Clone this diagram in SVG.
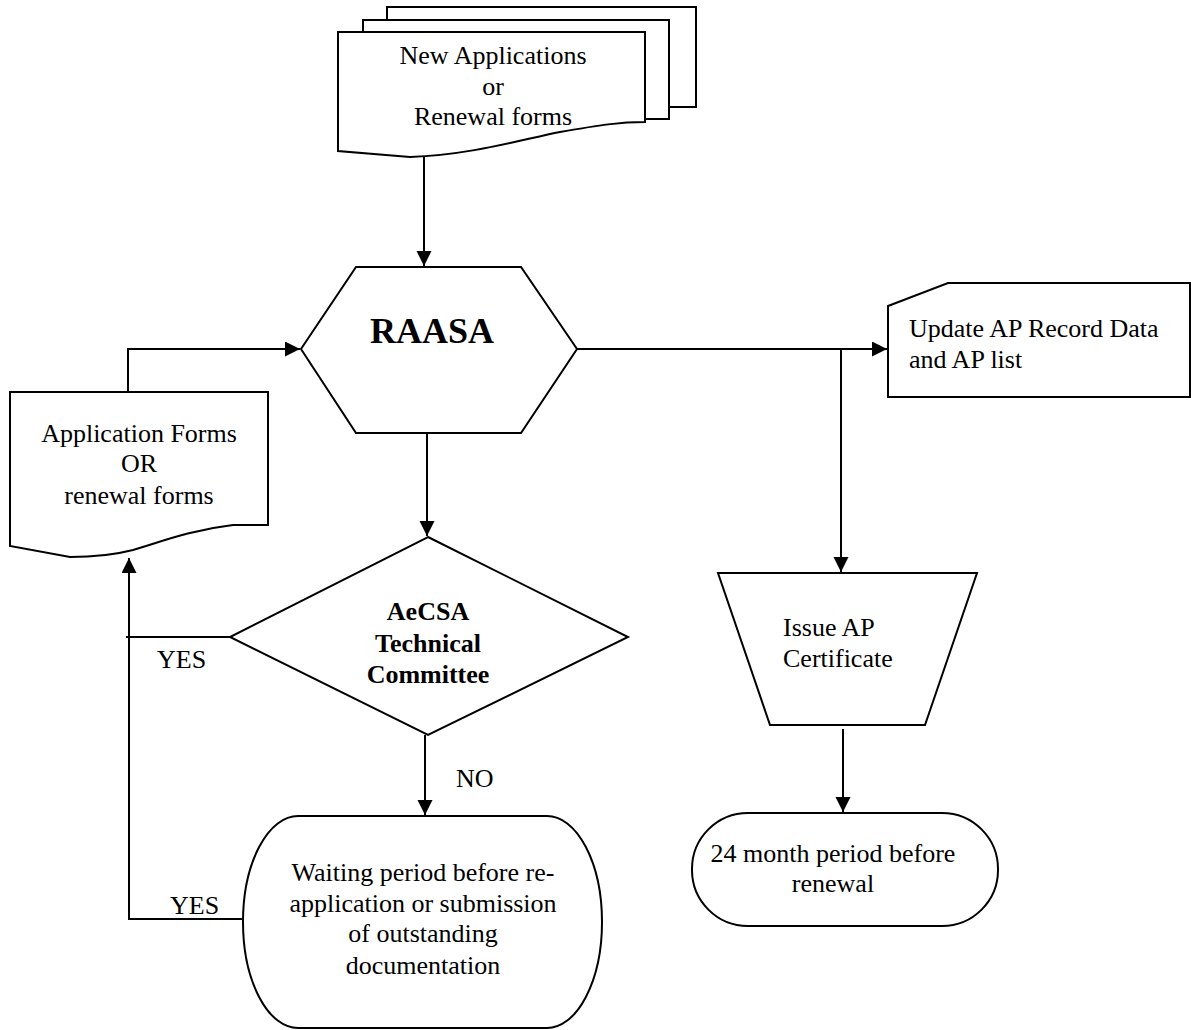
<svg xmlns="http://www.w3.org/2000/svg" width="1191" height="1030" viewBox="0 0 1191 1030">
<style>
.s{fill:#fff;stroke:#000;stroke-width:2}
.c{fill:none;stroke:#000;stroke-width:2}
text{font-family:"Liberation Serif","Times New Roman",serif;font-size:26px;fill:#000}
.m{text-anchor:middle}
.b{font-weight:bold}
</style>
<defs>
<marker id="ah" markerUnits="userSpaceOnUse" markerWidth="16" markerHeight="16" viewBox="0 0 16 16" refX="15" refY="7.5" orient="auto">
<path d="M0,0 L15,7.5 L0,15 Z" fill="#000"/>
</marker>
</defs>
<rect width="1191" height="1030" fill="#fff"/>
<g id="connectors">
<path class="c" d="M424,157 V266" marker-end="url(#ah)"/>
<path class="c" d="M128,397 V349 H300" marker-end="url(#ah)"/>
<path class="c" d="M577,349 H887" marker-end="url(#ah)"/>
<path class="c" d="M841,349 V572" marker-end="url(#ah)"/>
<path class="c" d="M427,433 V536" marker-end="url(#ah)"/>
<path class="c" d="M230,637 H126"/>
<path class="c" d="M425,735 V815" marker-end="url(#ah)"/>
<path class="c" d="M243,919 H129 V558" marker-end="url(#ah)"/>
<path class="c" d="M843,729 V812" marker-end="url(#ah)"/>
</g>
<g id="new-applications">
<rect class="s" x="387" y="7" width="309" height="100"/>
<rect class="s" x="363" y="20" width="306" height="99"/>
<path class="s" d="M338,32 H645 V122 C620,122 600,125 560,132 C520,140 470,155 410,157 L338,151 Z"/>
<text class="m" x="493" y="64">New Applications</text>
<text class="m" x="493" y="95">or</text>
<text class="m" x="493" y="125">Renewal forms</text>
</g>
<g id="raasa">
<path class="s" d="M356,267 H521 L577,349 L521,433 H356 L301,349 Z"/>
<text class="m b" x="432" y="343" style="font-size:36px">RAASA</text>
</g>
<g id="application-forms">
<path class="s" d="M10,392 H268 V525 H233 C190,530 160,542 133,550 C110,556 90,557 70,557 L10,546 Z"/>
<text class="m" x="139" y="442">Application Forms</text>
<text class="m" x="139" y="472">OR</text>
<text class="m" x="139" y="504">renewal forms</text>
</g>
<g id="update-ap">
<path class="s" d="M888,306 L948,283 H1190 V397 H888 Z"/>
<text x="909" y="337">Update AP Record Data</text>
<text x="909" y="368">and AP list</text>
</g>
<g id="aecsa">
<path class="s" d="M428,537 L628,637 L428,735 L230,637 Z"/>
<text class="m b" x="428" y="620">AeCSA</text>
<text class="m b" x="428" y="652">Technical</text>
<text class="m b" x="428" y="683">Committee</text>
</g>
<text x="157" y="668">YES</text>
<text x="456" y="787">NO</text>
<text x="170" y="914">YES</text>
<g id="issue-ap">
<path class="s" d="M718,573 H977 L925,725 H770 Z"/>
<text x="783" y="636">Issue AP</text>
<text x="783" y="667">Certificate</text>
</g>
<g id="waiting">
<rect class="s" x="243" y="816" width="359" height="212" rx="55" ry="106"/>
<text class="m" x="423" y="881">Waiting period before re-</text>
<text class="m" x="423" y="912">application or submission</text>
<text class="m" x="423" y="942">of outstanding</text>
<text class="m" x="423" y="974">documentation</text>
</g>
<g id="renewal-period">
<rect class="s" x="692" y="813" width="306" height="113" rx="56" ry="56"/>
<text class="m" x="833" y="862">24 month period before</text>
<text class="m" x="833" y="892">renewal</text>
</g>
</svg>
